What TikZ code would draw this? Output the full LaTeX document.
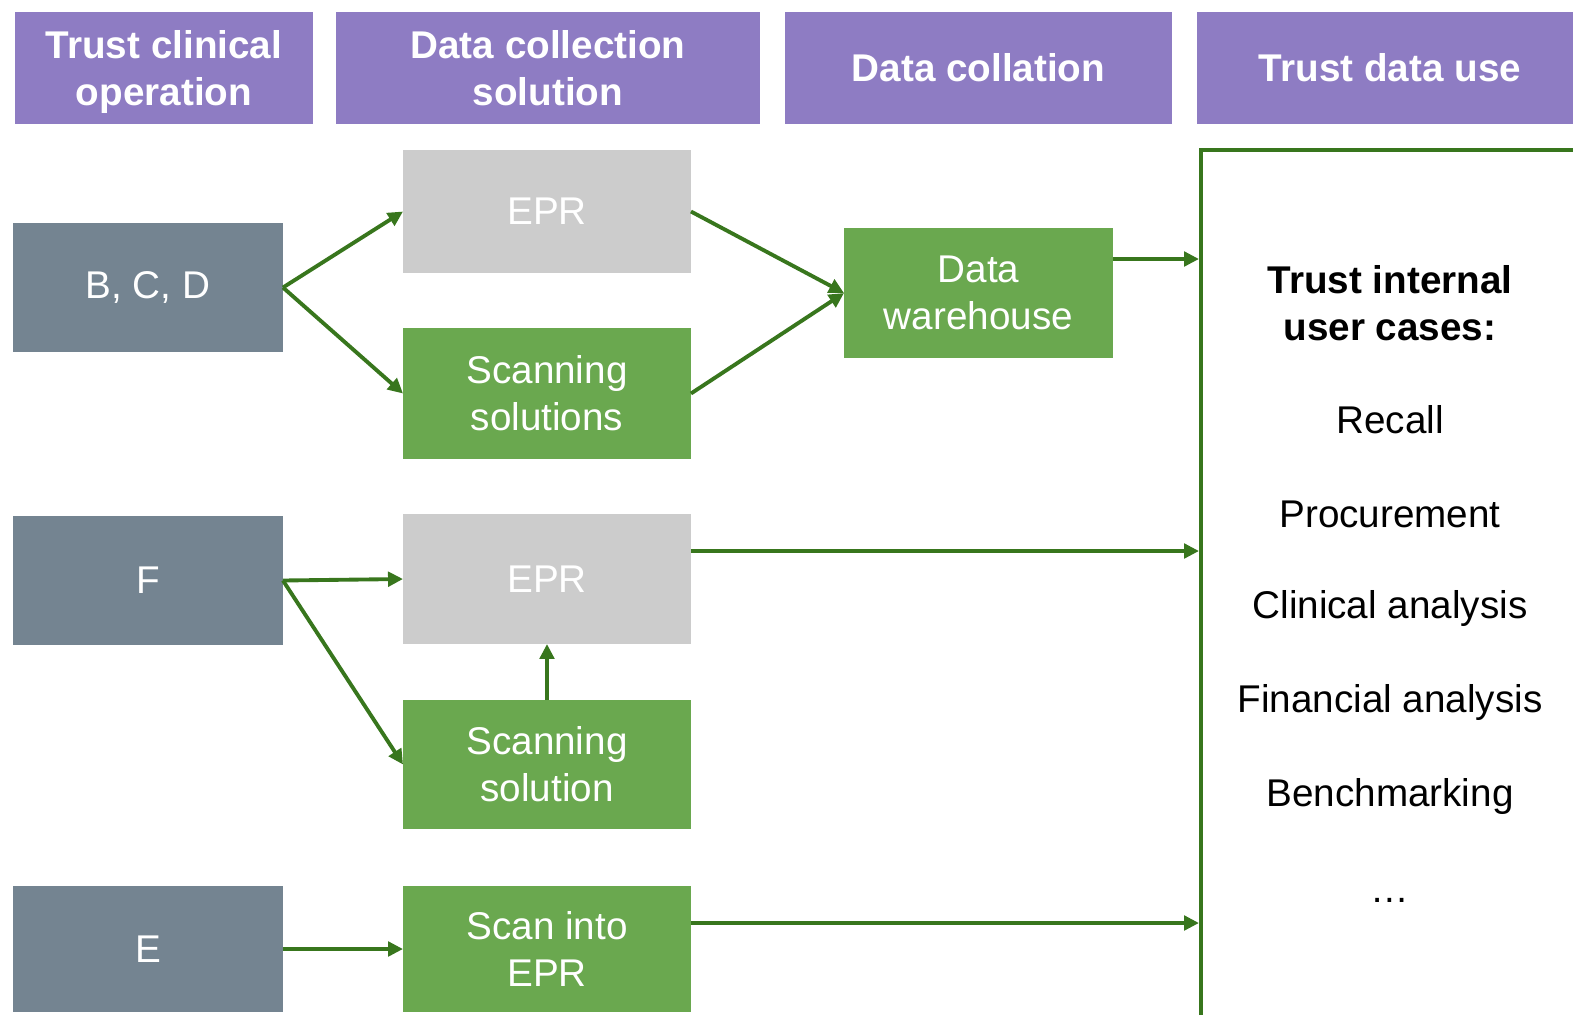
\documentclass[tikz,border=0pt]{standalone}
\usepackage{fontspec}
\setmainfont{Liberation Sans}
\usetikzlibrary{arrows.meta}
\definecolor{hdr}{HTML}{8E7CC3}
\definecolor{slate}{HTML}{748491}
\definecolor{lgray}{HTML}{CCCCCC}
\definecolor{gbox}{HTML}{6AA84F}
\definecolor{dgreen}{HTML}{38761D}
\begin{document}
\begin{tikzpicture}[x=0.02cm,y=-0.02cm,
  base/.style={inner sep=0pt,outer sep=0pt,text=white,align=center,font=\fontsize{22}{26.7}\selectfont},
  hdrbox/.style={base,fill=hdr,font=\bfseries\fontsize{22}{26.7}\selectfont,minimum height=2.24cm},
  srcbox/.style={base,fill=slate,minimum width=5.4cm},
  epr/.style={base,fill=lgray,minimum width=5.76cm},
  gb/.style={base,fill=gbox},
  conn/.style={draw=dgreen,line width=2.2pt,-{Triangle[length=0.3cm,width=0.29cm]}},
  item/.style={inner sep=0pt,font=\fontsize{22}{26.7}\selectfont,align=center}]
\useasboundingbox (0,0) rectangle (1573,1015);
% headers
\node[hdrbox,minimum width=5.96cm] (h1) at (164,68) {Trust clinical\\\raisebox{0pt}[\height][0pt]{operation}};
\node[hdrbox,minimum width=8.48cm] (h2) at (548,68) {Data collection\\solution};
\node[hdrbox,minimum width=7.74cm] (h3) at (978.5,68) {Data collation};
\node[hdrbox,minimum width=7.72cm] (h4) at (1390,68) {Trust data use};
% sources
\node[srcbox,minimum height=2.58cm] (bcd) at (148,287.5) {B, C, D};
\node[srcbox,minimum height=2.58cm] (f) at (148,580.5) {F};
\node[srcbox,minimum height=2.52cm] (e) at (148,949) {E};
% collection
\node[epr,minimum height=2.46cm] (epr1) at (547,211.5) {EPR};
\node[gb,minimum width=5.76cm,minimum height=2.62cm] (scan1) at (547,393.5) {Scanning\\solutions};
\node[epr,minimum height=2.6cm] (epr2) at (547,579) {EPR};
\node[gb,minimum width=5.76cm,minimum height=2.58cm] (scan2) at (547,764.5) {Scanning\\solution};
\node[gb,minimum width=5.76cm,minimum height=2.52cm] (scan3) at (547,949) {Scan into\\EPR};
% collation
\node[gb,minimum width=5.38cm,minimum height=2.6cm] (dw) at (978.5,293) {Data\\warehouse};
% panel
\coordinate (pb) at (1201,1015);
\coordinate (ptl) at (1201,150);
\coordinate (ptr) at (1573,150);
\draw[dgreen,line width=2.2pt] (pb) -- (ptl) -- (ptr);
\coordinate (p1) at (1199,259);
\coordinate (p2) at (1199,551);
\coordinate (p3) at (1199,923);
% panel text
\node[item,font=\bfseries\fontsize{22}{26.7}\selectfont] (t0) at (1390,303) {Trust internal\\user cases:};
\node[item] (t1) at (1390,420) {Recall};
\node[item] (t2) at (1390,514) {Procurement};
\node[item] (t3) at (1390,608) {Clinical analysis};
\node[item] (t4) at (1390,702) {Financial analysis};
\node[item] (t5) at (1390,796) {Benchmarking};
\node[item] (t6) at (1390,900) {\dots};
% connectors
\draw[conn] (bcd.east) -- (epr1.west);
\draw[conn] (bcd.east) -- (scan1.west);
\draw[conn] (epr1.east) -- (dw.west);
\draw[conn] (scan1.east) -- (dw.west);
\draw[conn] (dw.east |- p1) -- (p1);
\draw[conn] (f.east) -- (epr2.west);
\draw[conn] (f.east) -- (scan2.west);
\draw[conn] (scan2.north) -- (epr2.south);
\draw[conn] (epr2.east |- p2) -- (p2);
\draw[conn] (scan3.east |- p3) -- (p3);
\draw[conn] (e.east) -- (scan3.west);
\end{tikzpicture}
\end{document}
